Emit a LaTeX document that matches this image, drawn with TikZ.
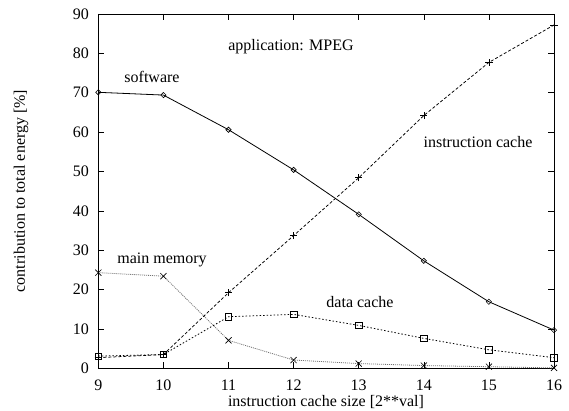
\documentclass[tikz,border=0pt]{standalone}
\usepackage{fontspec}
\setmainfont{Liberation Serif}
\usetikzlibrary{shapes.geometric,shapes.misc}

\tikzset{
  frame/.style={line width=0.7pt},
  tickline/.style={line width=0.6pt},
  lbl/.style={inner sep=0pt},
  mk/.style={draw, inner sep=0pt, line width=0.6pt, fill=none},
  mdiamond/.style={mk, diamond, minimum width=5.5pt, minimum height=5.5pt},
  msquare/.style={mk, rectangle, minimum size=6.5pt},
  mcross/.style={mk, cross out, minimum size=5.5pt},
  mplus/.style={mk, cross out, rotate=45, minimum size=4.5pt},
  swline/.style={line width=0.8pt},
  icline/.style={line width=0.75pt, dash pattern=on 3pt off 2pt},
  dcline/.style={line width=0.8pt, dash pattern=on 1.5pt off 2pt},
  mmline/.style={line width=0.8pt, black!55, dash pattern=on 1pt off 1pt},
}

\begin{document}
\begin{tikzpicture}[x=1pt, y=1pt, font=\fontsize{16}{19}\selectfont]
\useasboundingbox (0,0) rectangle (569,410);

% plot frame: x from 98.3 to 554, y from 41.7 to 396
\coordinate (bl) at (98.3,41.7);
\coordinate (tr) at (554,396);

% axes ticks and labels
\foreach \v [count=\k from 0] in {9,...,16} {
  \pgfmathsetmacro\xx{98.3+\k*65.1}
  \draw[tickline] (\xx,41.7) -- ++(0,6);
  \draw[tickline] (\xx,396) -- ++(0,-6);
  \node[lbl] (xt\v) at (\xx,25) {\v};
}
\foreach \v in {0,10,...,90} {
  \pgfmathsetmacro\yy{41.7+\v*3.937}
  \draw[tickline] (98.3,\yy) -- ++(6,0);
  \draw[tickline] (554,\yy) -- ++(-6,0);
  \node[lbl, anchor=east] (yt\v) at (89,\yy) {\v};
}

\draw[frame] (98.3,41.7) -- (98.3,396) -- (554,396) -- (554,41.7);
\draw[line width=1.4pt] (98.3,41.7) -- (554,41.7);

% data series in plot coordinates
\begin{scope}[shift={(98.3,41.7)}, x=65.1pt, y=3.937pt]
  \foreach \v/\s/\i/\d/\m [count=\k from 0] in {
      9/70.1/2.7/3.1/24.3,
      10/69.4/3.5/3.5/23.4,
      11/60.6/19.2/13.1/7.1,
      12/50.4/33.7/13.7/2.1,
      13/39.1/48.4/10.9/1.2,
      14/27.3/64.2/7.6/0.7,
      15/16.9/77.7/4.7/0.4,
      16/9.7/87.2/2.7/0.1} {
    \coordinate (s\v) at (\k,\s);
    \coordinate (i\v) at (\k,\i);
    \coordinate (d\v) at (\k,\d);
    \coordinate (m\v) at (\k,\m);
  }
\end{scope}

\draw[mmline] (m9) -- (m10) -- (m11) -- (m12) -- (m13) -- (m14) -- (m15) -- (m16);
\draw[dcline] (d9) -- (d10) -- (d11) -- (d12) -- (d13) -- (d14) -- (d15) -- (d16);
\draw[icline] (i9) -- (i10) -- (i11) -- (i12) -- (i13) -- (i14) -- (i15) -- (i16);
\draw[swline] (s9) -- (s10) -- (s11) -- (s12) -- (s13) -- (s14) -- (s15) -- (s16);

\foreach \v in {9,...,16} {
  \node[mcross] (mm\v) at (m\v) {};
  \node[msquare] (dm\v) at (d\v) {};
  \node[mplus] (im\v) at (i\v) {};
  \node[mdiamond] (sm\v) at (s\v) {};
}

% series labels
\node[lbl] (tsw) at (152,333) {software};
\node[lbl] (tapp) at (291,363) {application: MPEG};
\node[lbl] (tic) at (478,268) {instruction cache};
\node[lbl] (tmm) at (162,150) {main memory};
\node[lbl] (tdc) at (360,108) {data cache};

% axis titles
\node[lbl] (xtitle) at (326,8) {instruction cache size [2**val]};
\node[lbl, rotate=90] (ytitle) at (21,219) {contribution to total energy [\%]};
\end{tikzpicture}
\end{document}
